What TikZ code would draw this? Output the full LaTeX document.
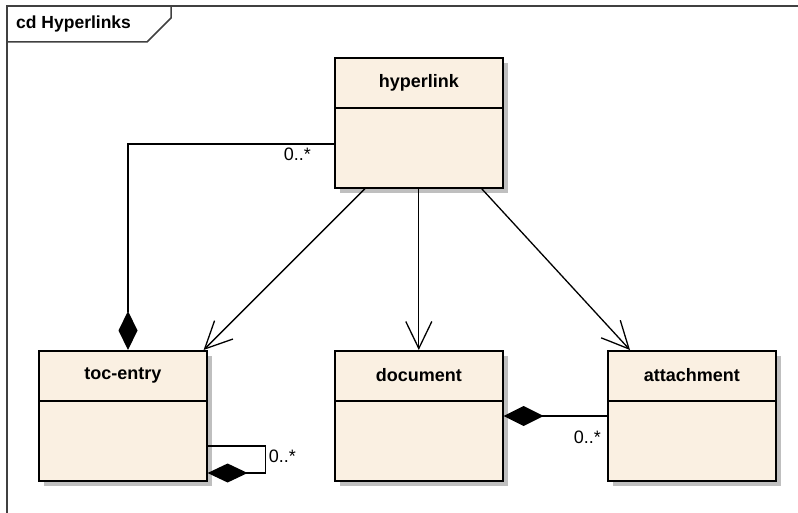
\documentclass[tikz,border=0pt]{standalone}
\usepackage{fontspec}
\setmainfont{Liberation Sans}
\usetikzlibrary{arrows.meta,calc,shadows}
\definecolor{clsfill}{RGB}{250,240,226}
\definecolor{framegray}{RGB}{64,64,64}
\tikzset{
    cls/.style={draw, line width=1.6pt, fill=clsfill, minimum width=168pt, minimum height=130pt,
        anchor=north west, inner sep=0pt,
        drop shadow={shadow xshift=5pt, shadow yshift=-5pt, fill=black!25, opacity=1}},
    clsname/.style={font=\fontsize{18}{21}\selectfont\bfseries, inner sep=0pt},
    mult/.style={font=\fontsize{18}{21}\selectfont, inner sep=0pt},
    assoc/.style={-{Straight Barb[length=27pt,width=26pt]}, line width=1.3pt},
    comp/.style={line width=1.3pt}
}

\begin{document}
\begin{tikzpicture}[x=1pt,y=-1pt]
            \useasboundingbox (0,0) rectangle (798,513);
            % frame
            \draw[framegray, line width=1.5pt] (7,513) -- (7,6) -- (798,6);
            \draw[framegray, line width=1.5pt] (7,42) -- (147,42) -- (171,18) -- (171,6);
            \node[anchor=west, font=\fontsize{17.5}{20}\selectfont\bfseries, inner sep=0pt] (title) at (16,24) {cd Hyperlinks};

            % classes
            \node[cls] (hyperlink) at (334,57) {};
            \node[cls] (toc) at (38,350) {};
            \node[cls] (doc) at (334,350) {};
            \node[cls] (attach) at (607,350) {};
            \foreach \c in {hyperlink,toc,doc,attach}
                \draw[line width=1.4pt] ($(\c.north west)+(0,51)$) -- ($(\c.north east)+(0,51)$);
            \node[clsname] (hyperlinkname) at ($(hyperlink.north)+(0,25.5)$) {hyperlink};
            \node[clsname] (tocname) at ($(toc.north)+(0,25.5)$) {toc-entry};
            \node[clsname] (docname) at ($(doc.north)+(0,25.5)$) {document};
            \node[clsname] (attachname) at ($(attach.north)+(0,25.5)$) {attachment};

            % connectors
            \coordinate (h1) at ($(hyperlink.north west)+(0,87)$);
            \coordinate (t1) at ($(toc.north west)+(90,0)$);
            \draw[comp, -{Diamond[length=39pt,width=19pt]}] (h1) -| (t1);
            \node[mult, anchor=north east] (m1) at ($(h1)+(-23,4)$) {0..*};

            \draw[assoc] ($(hyperlink.south west)+(31,0)$) -- ($(toc.north east)+(-4,0)$);
            \draw[assoc] (hyperlink.south) -- (doc.north);
            \draw[assoc] ($(hyperlink.south east)+(-22,0)$) -- ($(attach.north west)+(23,0)$);

            \coordinate (a1) at ($(attach.north west)+(0,66)$);
            \draw[comp, -{Diamond[length=40pt,width=20pt]}] (a1) -- (a1 -| doc.east);
            \node[mult, anchor=east] (m2) at ($(a1)+(-6,21)$) {0..*};

            \coordinate (s1) at ($(toc.north east)+(0,96)$);
            \coordinate (s2) at ($(toc.north east)+(0,123)$);
            \draw[comp, -{Diamond[length=40pt,width=19pt]}] (s1) -- ++(58,0) |- (s2);
            \node[mult, anchor=west] (m3) at ($(s1)+(61,10)$) {0..*};
\end{tikzpicture}
\end{document}
